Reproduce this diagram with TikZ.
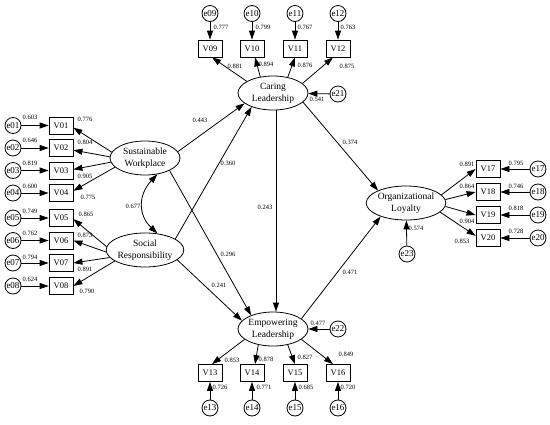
\documentclass[tikz,border=0pt]{standalone}
\usepackage{fontspec}
\setmainfont{Liberation Serif}
\usetikzlibrary{arrows.meta,shapes.geometric}
\begin{document}
\begin{tikzpicture}[x=1pt,y=-1pt,
  lat/.style={ellipse,draw,line width=0.8pt,minimum width=70pt,minimum height=34pt,inner sep=0pt,align=center,font=\fontsize{9.5}{12}\selectfont},
  obs/.style={rectangle,draw,line width=0.8pt,minimum width=24pt,minimum height=17pt,inner sep=0pt,font=\fontsize{8.5}{10}\selectfont},
  err/.style={circle,draw,line width=0.8pt,minimum size=16pt,inner sep=0pt,font=\fontsize{9}{10}\selectfont},
  num/.style={inner sep=0pt,font=\fontsize{6.5}{7}\selectfont},
  arr/.style={line width=0.8pt,-{Triangle[length=9pt,width=6pt]}},
  biarr/.style={line width=0.8pt,{Triangle[length=9pt,width=6pt]}-{Triangle[length=9pt,width=6pt]}},
]
\useasboundingbox (0,0) rectangle (550,424);

% latent variables
\node[lat] (sw) at (145,158) {Sustainable\\Workplace};
\node[lat] (sr) at (145,250) {Social\\Responsibility};
\node[lat] (cl) at (273,93) {Caring\\Leadership};
\node[lat] (el) at (273,329) {Empowering\\Leadership};
\node[lat] (ol) at (406,203) {Organizational\\Loyalty};

% left indicators
\foreach \i/\y in {01/125.5,02/148,03/170.5,04/193,05/218,06/240.5,07/263,08/286}{
  \node[obs] (v\i) at (61,\y) {V\i};
  \node[err] (e\i) at (13,\y) {e\i};
  \draw[arr] (e\i) -- (v\i);
}
\foreach \i/\a/\b in {01/170/-10,02/178/-10,03/187/5,04/197/10}
  \draw[arr] (sw.\a) -- (v\i.\b);
\foreach \i/\a/\b in {05/175/-5,06/183/0,07/192/0,08/200/0}
  \draw[arr] (sr.\a) -- (v\i.\b);

% top indicators
\foreach \i/\x in {09/210,10/252,11/295,12/338}{
  \node[obs] (v\i) at (\x,48.5) {V\i};
  \node[err] (e\i) at (\x,13.5) {e\i};
  \draw[arr] (e\i) -- (v\i);
}
\foreach \i/\a/\s in {09/156/2,10/128/3,11/47/0,12/18/-5}
  \draw[arr] (cl.\a) -- ([xshift=\s pt]v\i.south);

% bottom indicators
\foreach \i/\x in {13/210,14/252,15/295,16/338}{
  \node[obs] (v\i) at (\x,373) {V\i};
  \node[err] (e\i) at (\x,408) {e\i};
  \draw[arr] (e\i) -- (v\i);
}
\foreach \i/\a/\s in {13/200/2,14/227/3,15/313/0,16/340/-5}
  \draw[arr] (el.\a) -- ([xshift=\s pt]v\i.north);

% right indicators
\foreach \i/\y in {17/169,18/192,19/215,20/238}{
  \node[obs] (v\i) at (488,\y) {V\i};
  \node[err] (e\i) at (538,\y) {e\i};
  \draw[arr] (e\i) -- (v\i);
}
\foreach \i/\a/\b in {17/13/180,18/5/180,19/-5/180,20/-15/170}
  \draw[arr] (ol.\a) -- (v\i.\b);

% disturbances
\node[err] (e21) at (338,94) {e21};
\node[err] (e22) at (338,329) {e22};
\node[err] (e23) at (407,254) {e23};
\draw[arr] (e21) -- (cl);
\draw[arr] (e22) -- (el);
\draw[arr] (e23) -- (ol);

% structural paths
\draw[arr] (sw.11) -- (cl.200);
\draw[arr] (sr.20) -- (cl.213);
\draw[arr] (sw.-27) -- (el.148);
\draw[arr] (sr.-17) -- (el.165);
\draw[arr] ([xshift=3pt]cl.south) -- ([xshift=3pt]el.north);
\draw[arr] (cl.-17) -- (ol.156);
\draw[arr] (el.20) -- (ol.208);
\draw[biarr] (sw.-53) .. controls (138,195) and (138,215) .. (sr.53);

% numeric labels
\foreach \t/\x/\y [count=\k] in {
  0.776/85/119, 0.804/85/142, 0.905/85/176, 0.775/88/197,
  0.865/86/214, 0.873/85/235, 0.891/85/269, 0.790/87/291,
  0.603/30/117, 0.646/30/140.5, 0.819/30/163.5, 0.600/30/186.5,
  0.749/30/211, 0.762/30/233.5, 0.794/30/257, 0.624/30/279.5,
  0.777/221/27, 0.799/263/27, 0.767/305/27, 0.763/348/27,
  0.881/235/66, 0.894/266/64, 0.876/305/65, 0.875/347/66,
  0.541/317/99,
  0.853/232/360, 0.878/266/359, 0.827/305/357, 0.849/346/354,
  0.726/220/387, 0.771/264/387, 0.685/306/387, 0.720/348/387,
  0.477/318/323,
  0.891/467/164, 0.864/467/186, 0.904/467/221, 0.853/462/241,
  0.795/516/163, 0.746/516/186, 0.818/516/208, 0.728/516/231,
  0.574/416/228,
  0.443/200/120, 0.360/228/163, 0.677/133/206, 0.243/265/207,
  0.296/228/254, 0.241/219/285, 0.374/350/142, 0.471/350/272}{
  \node[num] (lab\k) at (\x,\y) {\t};
}
\end{tikzpicture}
\end{document}
